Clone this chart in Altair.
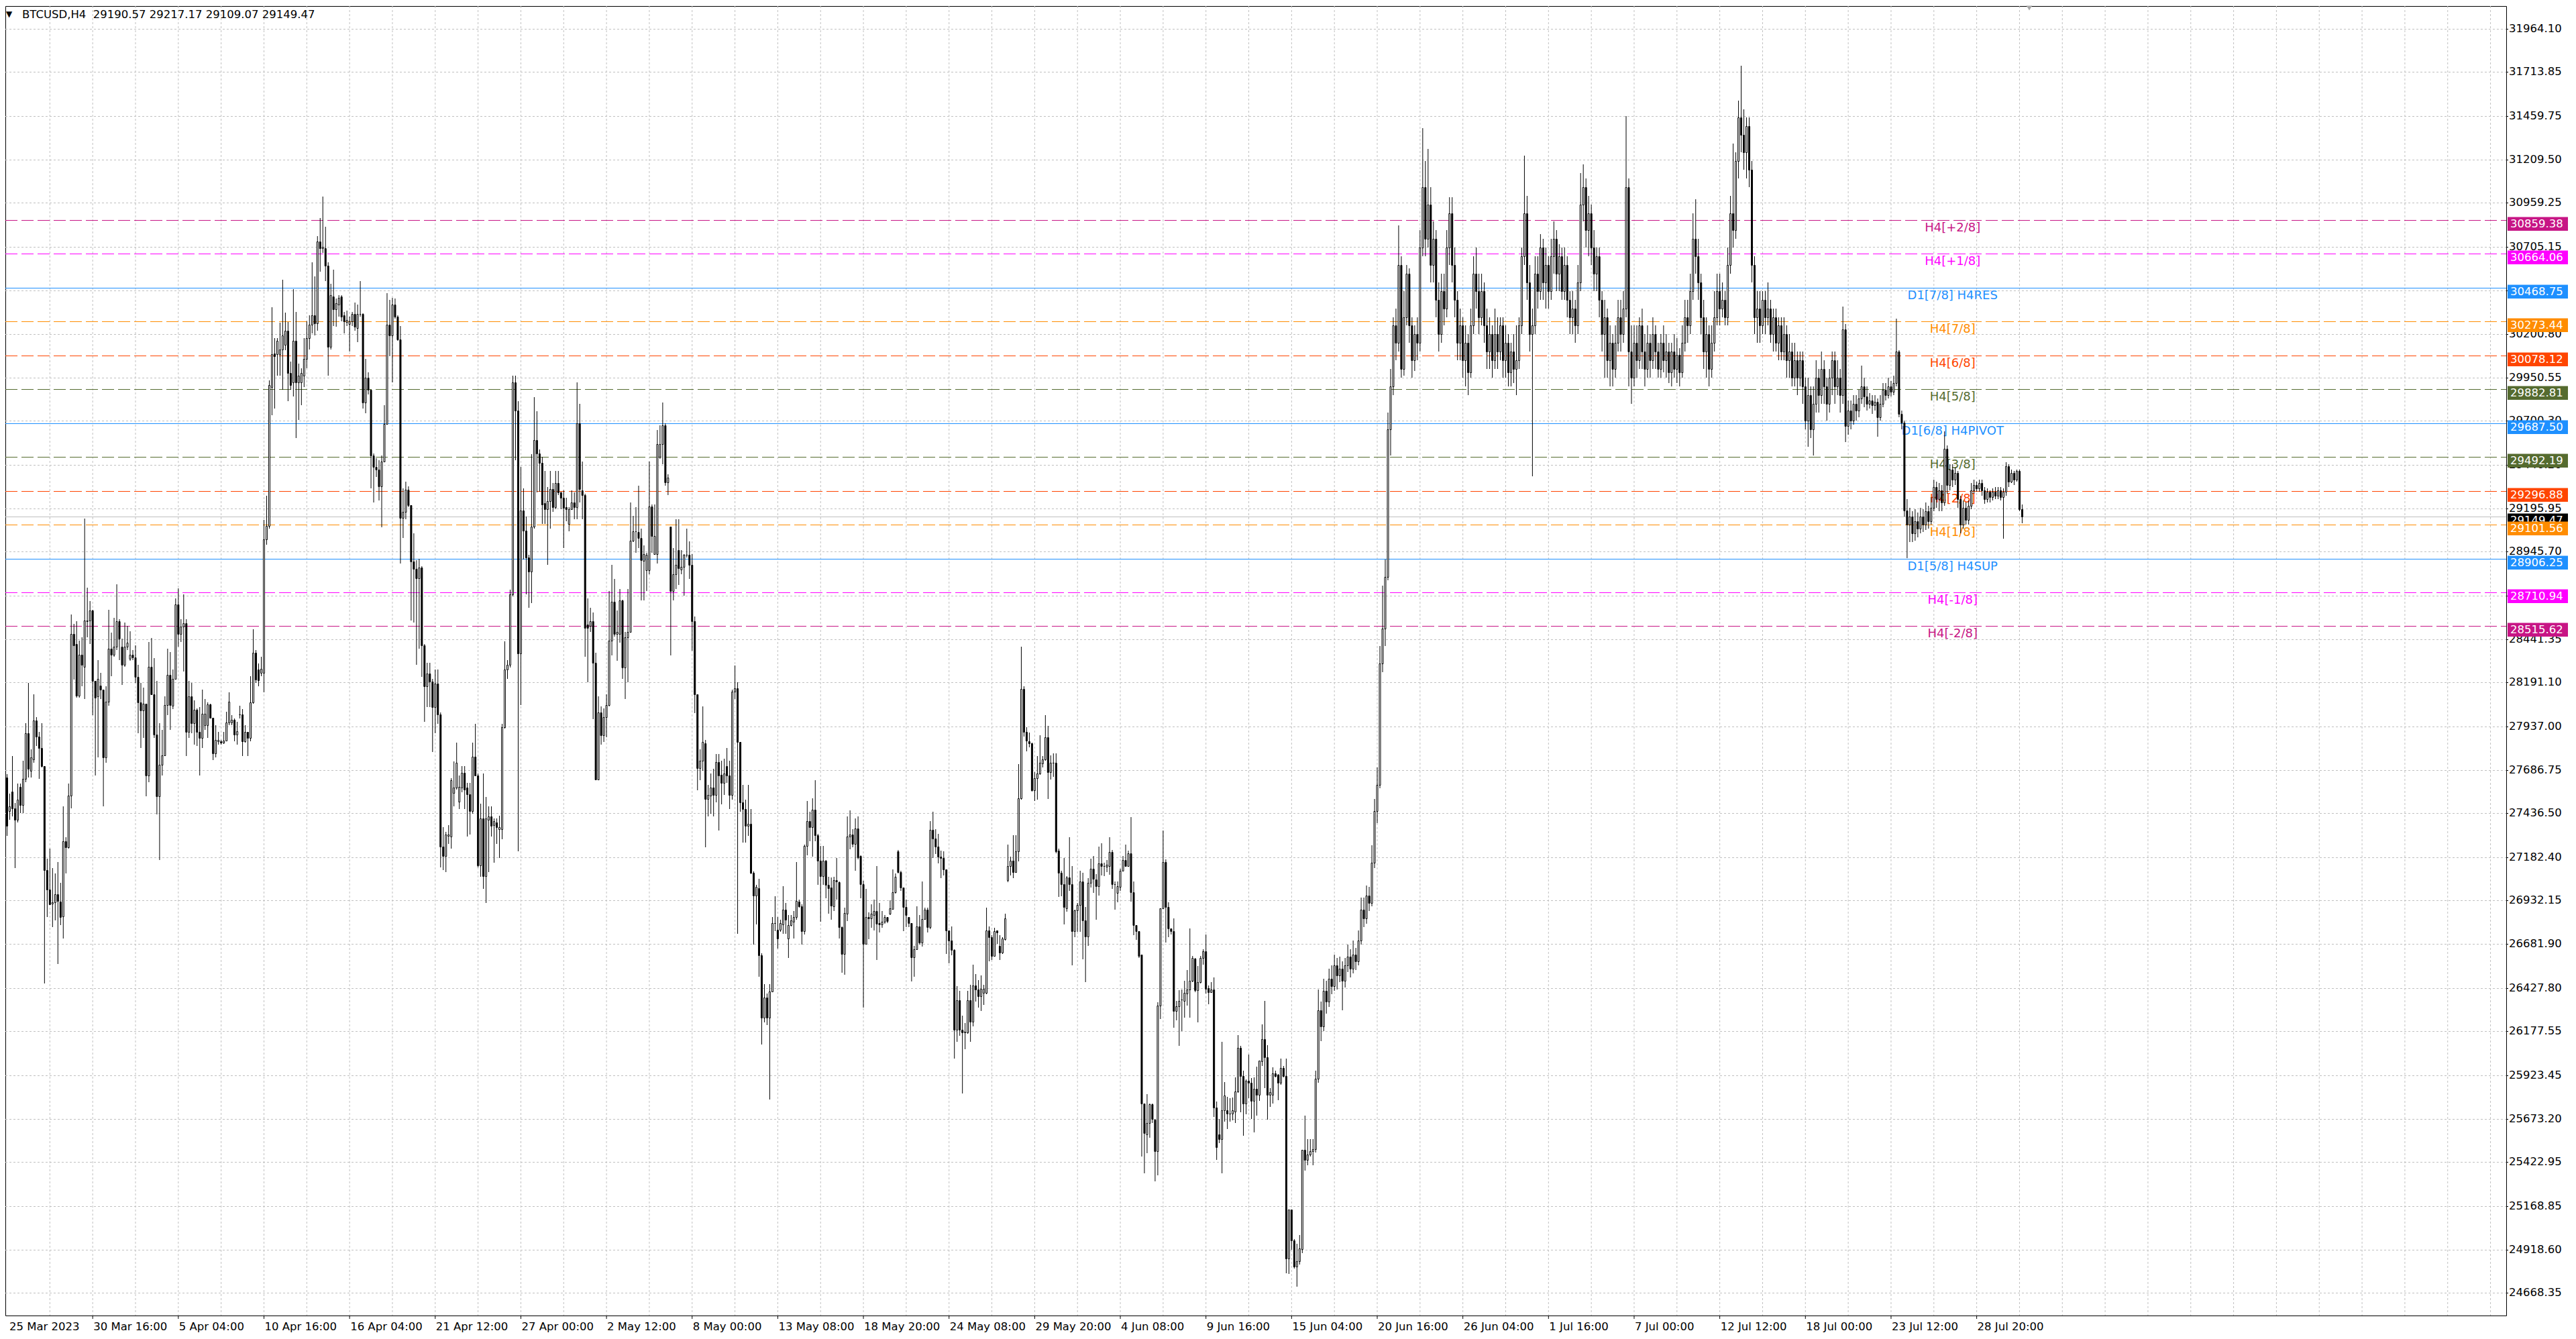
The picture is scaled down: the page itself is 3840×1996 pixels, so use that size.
import altair as alt
import pandas as pd

header_text = "BTCUSD,H4 \u00a029190.57 29217.17 29109.07 29149.47"
current_price = 29149.47

# H4 candles, bar 0 = 25 Mar 2023 00:00
opens = [
27644, 27447, 27560, 27466, 27400, 27588, 27485, 27635, 27898, 27682,
27748, 27973, 27879, 27813, 27710, 27109, 26996, 26915, 26921, 26968,
26927, 26841, 27273, 27241, 27537, 28471, 28411, 28114, 28349, 28283,
28546, 28550, 28608, 28198, 28110, 28174, 28148, 27757, 28080, 28386,
28349, 28396, 28546, 28396, 28292, 28396, 28326, 28349, 28336, 28223,
28076, 28029, 28067, 27654, 28283, 28123, 27889, 27532, 27716, 27772,
28061, 28236, 28057, 28213, 28640, 28471, 28512, 28531, 27907, 28110,
27954, 28035, 27904, 27870, 27945, 27945, 28063, 27986, 27780, 27851,
27851, 27842, 27855, 27960, 27960, 27977, 27889, 28005, 28005, 27851,
27904, 27870, 28076, 28362, 28264, 28245, 28245, 29015, 29093, 29895,
30091, 30085, 30085, 30112, 30140, 30221, 29976, 29922, 30161, 29922,
29922, 29963, 30058, 30180, 30254, 30308, 30262, 30737, 30697, 30697,
30596, 30126, 30417, 30343, 30371, 30417, 30308, 30270, 30259, 30275,
30316, 30235, 30316, 30316, 29808, 29949, 29881, 29501, 29433, 29419,
29324, 29465, 29683, 30254, 30194, 30370, 30303, 30172, 29139, 29174,
29302, 29215, 28889, 28848, 28794, 28856, 28405, 28169, 28242, 28196,
28047, 28183, 28006, 27245, 27191, 27306, 27300, 27552, 27585, 27503,
27585, 27671, 27585, 27544, 27449, 27761, 27653, 27136, 27408, 27074,
27400, 27416, 27367, 27381, 27346, 27346, 27932, 28264, 28291, 28699,
29922, 29759, 28359, 29183, 29066, 28912, 28829, 29092, 29590, 29513,
29457, 29225, 29189, 29236, 29308, 29203, 29341, 29286, 29258, 29203,
29106, 29189, 29230, 29203, 29687, 29300, 29272, 28525, 28516, 28544,
28303, 27631, 28018, 27888, 27991, 28062, 28433, 28655, 28469, 28469,
28663, 28276, 28450, 28483, 29009, 29064, 29059, 29023, 28893, 28837,
28837, 29208, 28932, 28932, 29493, 29568, 29673, 29347, 29092, 28718,
28815, 28954, 28843, 28857, 28926, 28926, 28871, 28544, 28124, 27695,
27741, 27841, 27520, 27537, 27584, 27542, 27730, 27659, 27612, 27708,
27653, 27542, 28137, 28157, 27847, 27501, 27459, 27362, 27376, 27094,
26961, 27003, 26615, 26255, 26374, 26255, 26408, 26801, 26762, 26762,
26795, 26878, 26712, 26790, 26811, 26838, 26927, 26900, 26754, 27247,
27389, 27354, 27455, 27309, 27163, 27074, 27163, 27021, 27007, 26900,
27051, 27039, 26779, 26624, 26855, 27300, 27313, 27259, 27348, 27188,
27028, 26683, 26838, 26829, 26850, 26873, 26802, 26793, 26811, 26838,
26855, 26882, 26980, 27216, 27096, 27007, 26895, 26838, 26802, 26606,
26651, 26784, 26690, 26825, 26879, 26779, 27341, 27291, 27242, 27185,
27176, 27113, 26758, 26701, 26647, 26188, 26357, 26185, 26170, 26170,
26357, 26233, 26441, 26420, 26379, 26398, 26398, 26761, 26719, 26612,
26758, 26672, 26630, 26708, 27051, 27131, 27163, 27096, 27217, 27523,
28154, 27905, 27852, 27839, 27567, 27638, 27665, 27722, 27745, 27875,
27674, 27727, 27727, 27219, 27092, 27027, 26889, 27067, 27027, 26756,
26875, 26908, 27041, 26816, 26725, 27033, 27116, 27053, 27017, 27146,
27132, 27126, 27132, 27211, 27027, 26978, 27013, 27106, 27165, 27132,
27205, 26982, 26790, 26756, 26622, 25762, 25584, 25649, 25756, 25669,
25485, 26325, 26889, 27156, 26895, 26770, 26756, 26296, 26321, 26361,
26355, 26394, 26420, 26468, 26598, 26414, 26460, 26602, 26638, 26428,
26404, 26420, 25736, 25584, 25554, 25722, 25722, 25703, 25703, 25716,
25831, 26084, 25920, 25762, 25894, 25880, 25776, 25847, 25811, 26005,
26131, 26029, 25811, 25811, 25934, 25926, 25880, 25966, 25920, 24866,
25149, 24971, 24819, 24852, 24922, 25495, 25436, 25465, 25485,
25499, 25905, 26300, 26205, 26410, 26350, 26480, 26440, 26560, 26500,
26540, 26470, 26560, 26610, 26540, 26620, 26580, 26700, 26880, 26830,
26960, 26920, 27150, 27450, 27600, 28300, 28500, 28800, 29650, 29900,
30250, 30150, 30600, 30000, 30300, 30550, 30250, 30050, 30200, 30150,
30700, 31050, 30750, 30950, 30600, 30750, 30400, 30200, 30450, 30350,
30700, 30900, 30600, 30400, 30150, 30250, 30050, 30150, 29980, 30250,
30550, 30450, 30300, 30450, 30250, 30100, 30200, 30050, 30200, 30100,
30250, 30050, 30150, 29980, 30100, 30000, 30050, 30250, 30650, 30900,
30500, 30200, 30250, 30550, 30450, 30700, 30500, 30600, 30450, 30650,
30750, 30550, 30650, 30450, 30600, 30400, 30300, 30350, 30250, 30500,
30950, 31050, 30800, 30900, 30700, 30550, 30650, 30400, 30200, 30300,
30050, 30150, 30000, 30150, 30300, 30200, 30350, 31050, 30100, 29950,
30150, 30050, 30250, 30100, 30000, 30150, 30050, 30200, 30100, 30000,
30150, 30050, 30100, 29980, 30100, 30000, 30080, 29980, 30150, 30300,
30250, 30450, 30750, 30650, 30500, 30300, 30100, 30200, 30000, 30150,
30300, 30450, 30350, 30400, 30300, 30600, 30900, 30800, 31200, 31450,
31350, 31250, 31400, 31150, 30600, 30300, 30350, 30250, 30400, 30300,
30350, 30200, 30300, 30150, 30250, 30100, 30200, 30050, 30100, 29950,
30050, 29950, 30050, 29900, 29700, 29850, 29650, 29800, 29950, 29850,
30000, 29900, 29800, 29950, 30050, 29900, 29950, 29850, 30229, 29670,
29760, 29700, 29800, 29760, 29830, 29900, 29840, 29800, 29820, 29790,
29810, 29720, 29800, 29880, 29850, 29900, 29870, 29920, 30100, 29740,
29690, 29185, 29100, 29150, 29050, 29120, 29080, 29150, 29100, 29180,
29120, 29200, 29320, 29250, 29300, 29230, 29540, 29330, 29420, 29360,
29400, 29250, 29100, 29200, 29130, 29210, 29300, 29330, 29310, 29340,
29300, 29250, 29290, 29260, 29290, 29270, 29300, 29260, 29290, 29440,
29350, 29400, 29360, 29410, 29190.57,
]
highs = [
27663, 27550, 27766, 27494, 27607, 27607, 27738, 27954, 28189, 27804,
28123, 27992, 27907, 27954, 27710, 27175, 27231, 27119, 27090, 27156,
27034, 27475, 27297, 27607, 28583, 28527, 28546, 28433, 28452, 29137,
28739, 28659, 28611, 28198, 28320, 28245, 28151, 28170, 28611, 28480,
28565, 28758, 28555, 28442, 28536, 28518, 28486, 28377, 28405, 28292,
28189, 28161, 28067, 28424, 28448, 28330, 28198, 27954, 27917, 28110,
28386, 28367, 28264, 28677, 28734, 28555, 28700, 28555, 28198, 28189,
28086, 28042, 28048, 28151, 28095, 28076, 28067, 27986, 27945, 27907,
27860, 27907, 28020, 28133, 28001, 27982, 27964, 28057, 28039, 27945,
27907, 28227, 28499, 28377, 28302, 28339, 29128, 29270, 29936, 30357,
30180, 30180, 30267, 30515, 30324, 30270, 30044, 30460, 30330, 30031,
30004, 30180, 30275, 30308, 30615, 30534, 30765, 30873, 30996, 30819,
30615, 30493, 30574, 30406, 30425, 30425, 30330, 30335, 30303, 30330,
30384, 30370, 30506, 30321, 30058, 29982, 29881, 29514, 29487, 29474,
29501, 29792, 30438, 30398, 30411, 30406, 30308, 30248, 29311, 29351,
29324, 29215, 29052, 28895, 28903, 28862, 28414, 28305, 28305, 28210,
28264, 28264, 28019, 27354, 27327, 27367, 27639, 27734, 27843, 27653,
27707, 27707, 27612, 27612, 27843, 27952, 27666, 27490, 27666, 27531,
27476, 27476, 27408, 27408, 27422, 27952, 28427, 28318, 28726, 29963,
29963, 29813, 29433, 29310, 29150, 28926, 29507, 29839, 29756, 29535,
29493, 29410, 29319, 29410, 29341, 29410, 29410, 29291, 29300, 29258,
29203, 29300, 29286, 29922, 29798, 29466, 29280, 28677, 28622, 28594,
28364, 28110, 28054, 28040, 28123, 28718, 28871, 28788, 28608, 28732,
28669, 28483, 28732, 29230, 29153, 29203, 29327, 29078, 28981, 28940,
29466, 29217, 29217, 29646, 29673, 29806, 29687, 29391, 29092, 28968,
29134, 29134, 28954, 28932, 29078, 29004, 28932, 28572, 28124, 27805,
28054, 27861, 27598, 27667, 27694, 27778, 27778, 27741, 27750, 27813,
27741, 28151, 28290, 28193, 27847, 27598, 27515, 27598, 27459, 27100,
27022, 27058, 26629, 26449, 26394, 26449, 26837, 26956, 26837, 26823,
27016, 26920, 26850, 26850, 26873, 27153, 26936, 26909, 27256, 27508,
27443, 27523, 27626, 27318, 27247, 27247, 27167, 27069, 27064, 27069,
27176, 27042, 26784, 26891, 27419, 27451, 27345, 27407, 27416, 27194,
27046, 26998, 26864, 26909, 26936, 27131, 26918, 26873, 26850, 26838,
26932, 27110, 27087, 27224, 27105, 27007, 26939, 26838, 26802, 26672,
26900, 26847, 27042, 26891, 26891, 27389, 27443, 27345, 27318, 27220,
27217, 27113, 26761, 26784, 26651, 26437, 26411, 26268, 26224, 26411,
26446, 26562, 26509, 26473, 26500, 26446, 26891, 26784, 26731, 26775,
26761, 26731, 26722, 26855, 27256, 27185, 27309, 27309, 27718, 28398,
28167, 27932, 27900, 27843, 27674, 27768, 27887, 27768, 28003, 27941,
27772, 27781, 27781, 27231, 27106, 27179, 27073, 27298, 27132, 26879,
26918, 27106, 27092, 26895, 27061, 27175, 27191, 27086, 27245, 27264,
27152, 27166, 27298, 27225, 27041, 27041, 27116, 27191, 27254, 27219,
27413, 27041, 26790, 26756, 26622, 25762, 25815, 25762, 25762, 25673,
26345, 26889, 27338, 27171, 26922, 26770, 26829, 26355, 26414, 26420,
26468, 26533, 26770, 26612, 26602, 26553, 26612, 26651, 26736, 26444,
26460, 26487, 25772, 25673, 26118, 25886, 25801, 25792, 25796, 25910,
26157, 26092, 25950, 25900, 26045, 25906, 25910, 25973, 26009, 26217,
26355, 26098, 25851, 25969, 25950, 25930, 26019, 25979, 26019, 25149,
25149, 24977, 24951, 25001, 25495, 25693, 25554, 25554, 25554,
25950, 26420, 26350, 26480, 26470, 26540, 26560, 26620, 26600, 26610,
26580, 26600, 26680, 26650, 26700, 26660, 26760, 26950, 26950, 27020,
27010, 27250, 27520, 27700, 28400, 28750, 28900, 29750, 30000, 30300,
30350, 30830, 30650, 30450, 30600, 30580, 30300, 30250, 30300, 30800,
31390, 31200, 31270, 31050, 30850, 30800, 30500, 30550, 30550, 30800,
30990, 30990, 30700, 30450, 30350, 30300, 30250, 30200, 30350, 30650,
30700, 30550, 30550, 30500, 30350, 30300, 30250, 30350, 30300, 30300,
30300, 30250, 30200, 30150, 30200, 30250, 30300, 30700, 31230, 31000,
30600, 30350, 30650, 30650, 30780, 30750, 30700, 30650, 30750, 30850,
30800, 30720, 30700, 30700, 30650, 30450, 30450, 30400, 30600, 31130,
31180, 31100, 31000, 30950, 30800, 30700, 30700, 30450, 30400, 30350,
30250, 30200, 30250, 30400, 30400, 30450, 31460, 31100, 30250, 30250,
30250, 30300, 30350, 30200, 30250, 30200, 30300, 30250, 30150, 30200,
30250, 30200, 30150, 30150, 30200, 30180, 30120, 30250, 30400, 30400,
30550, 30900, 30980, 30750, 30550, 30400, 30300, 30250, 30250, 30450,
30550, 30550, 30500, 30450, 30700, 31000, 31300, 31250, 31550, 31750,
31500, 31450, 31450, 31200, 30650, 30450, 30450, 30450, 30450, 30500,
30400, 30350, 30350, 30300, 30300, 30300, 30250, 30200, 30150, 30150,
30100, 30100, 30100, 29950, 29950, 29900, 29900, 30050, 30000, 30100,
30050, 29950, 30000, 30100, 30100, 30050, 30000, 30360, 30260, 29820,
29820, 29850, 29850, 29880, 30020, 29950, 29900, 29860, 29850, 29850,
29830, 29850, 29920, 29920, 29950, 29930, 29960, 30290, 30110, 29760,
29700, 29250, 29200, 29180, 29190, 29170, 29200, 29190, 29230, 29210,
29260, 29360, 29350, 29340, 29330, 29640, 29560, 29450, 29450, 29430,
29410, 29270, 29240, 29230, 29240, 29340, 29360, 29350, 29360, 29360,
29320, 29310, 29300, 29310, 29320, 29320, 29320, 29310, 29460, 29450,
29420, 29410, 29420, 29420, 29217.17,
]
lows = [
27306, 27400, 27419, 27119, 27381, 27438, 27438, 27616, 27644, 27644,
27729, 27823, 27635, 27701, 26452, 26837, 26912, 26780, 26818, 26565,
26790, 26715, 27090, 27231, 27466, 28208, 28104, 28104, 28170, 28095,
28452, 28414, 28001, 27654, 27757, 28095, 27475, 27729, 28057, 28227,
28339, 28377, 28320, 28176, 28283, 28377, 28317, 28320, 28189, 27898,
27813, 27870, 27532, 27616, 28123, 27870, 27428, 27165, 27654, 27766,
28001, 27917, 28039, 28208, 28396, 28424, 28255, 27766, 27870, 27898,
27832, 27823, 27654, 27813, 27917, 27870, 27982, 27742, 27757, 27832,
27832, 27836, 27851, 27945, 27945, 27851, 27832, 27982, 27766, 27842,
27766, 27851, 28067, 28189, 28170, 28227, 28133, 28984, 29079, 29732,
29772, 29963, 29963, 29881, 30107, 29813, 29881, 29840, 29601, 29705,
29792, 29895, 30004, 30112, 30207, 30194, 30221, 30561, 30670, 30506,
29963, 30112, 30248, 30243, 30303, 30275, 30207, 30248, 30099, 30248,
30221, 30153, 30303, 29773, 29745, 29854, 29311, 29229, 29378, 29243,
29085, 29460, 29678, 30072, 29922, 30289, 30161, 28876, 29025, 29134,
29202, 28550, 28536, 28291, 28386, 28223, 27965, 28047, 28047, 27788,
27897, 27951, 27123, 27109, 27096, 27259, 27231, 27476, 27571, 27462,
27558, 27462, 27300, 27313, 27435, 27653, 27123, 27068, 27000, 26919,
27096, 27300, 27150, 27259, 27177, 27286, 27924, 28210, 28278, 28686,
29474, 27218, 28060, 28900, 28700, 28622, 28649, 29078, 29286, 29291,
29106, 29106, 28871, 29078, 29175, 29189, 29272, 29189, 28968, 29120,
29064, 29189, 29134, 29134, 29230, 29134, 28339, 28193, 28483, 27980,
27625, 27625, 27833, 27847, 27874, 28054, 28345, 28456, 28317, 28422,
28212, 28096, 28193, 28483, 29000, 28940, 28968, 28663, 28663, 28718,
28815, 28940, 28926, 28876, 29480, 29452, 29327, 29272, 28345, 28663,
28732, 28754, 28815, 28691, 28912, 28788, 28373, 28013, 27570, 27625,
27681, 27238, 27418, 27432, 27418, 27501, 27335, 27487, 27542, 27612,
27459, 27515, 28096, 26740, 27446, 27266, 27266, 27307, 27086, 26679,
26795, 26491, 26103, 26228, 26214, 25785, 26408, 26754, 26657, 26750,
26740, 26740, 26601, 26781, 26713, 26820, 26891, 26678, 26736, 27194,
27274, 27185, 27274, 27024, 26811, 27024, 26944, 26855, 26820, 26873,
26936, 26713, 26517, 26505, 26815, 27229, 27238, 27105, 27170, 26944,
26313, 26683, 26708, 26775, 26758, 26589, 26749, 26775, 26797, 26802,
26847, 26882, 26971, 27087, 26989, 26754, 26779, 26779, 26464, 26491,
26651, 26678, 26665, 26820, 26749, 26766, 27176, 27202, 27145, 27060,
27078, 26624, 26571, 26615, 26019, 26117, 26153, 25818, 26073, 26162,
26117, 26206, 26348, 26313, 26295, 26331, 26393, 26580, 26589, 26607,
26683, 26589, 26624, 26701, 27039, 27078, 27060, 27096, 27158, 27514,
27878, 27793, 27816, 27562, 27508, 27514, 27656, 27700, 27740, 27519,
27629, 27647, 27205, 26954, 26958, 26796, 26869, 26988, 26559, 26721,
26750, 26750, 26592, 26460, 26671, 27007, 26978, 26823, 26962, 27077,
27073, 27096, 27080, 27001, 26879, 26922, 26988, 27100, 27126, 27126,
26928, 26731, 26705, 26602, 25455, 25357, 25475, 25564, 25649, 25313,
25347, 26250, 26889, 26691, 26721, 26736, 26197, 26242, 26092, 26177,
26256, 26325, 26256, 26460, 26404, 26230, 26454, 26563, 26394, 26335,
26400, 25683, 25436, 25534, 25357, 25657, 25614, 25657, 25663, 25649,
25821, 25712, 25574, 25697, 25792, 25673, 25594, 25693, 25776, 25979,
25851, 25669, 25742, 25762, 25910, 25782, 25871, 25910, 24783, 24779,
24918, 24807, 24704, 24833, 24898, 25372, 25406, 25455, 25406,
25480, 25880, 26120, 26180, 26280, 26320, 26390, 26410, 26420, 26460,
26300, 26430, 26520, 26490, 26510, 26530, 26560, 26680, 26780, 26800,
26870, 26900, 27120, 27380, 27580, 28250, 28400, 28780, 29500, 29850,
30050, 30100, 29950, 29960, 30250, 30150, 29950, 29990, 30050, 30100,
30650, 30650, 30700, 30500, 30500, 30300, 30100, 30150, 30250, 30300,
30600, 30500, 30300, 30050, 30050, 29950, 29900, 29850, 29950, 30200,
30350, 30200, 30250, 30150, 30000, 30000, 29950, 30000, 30000, 30050,
29950, 29950, 29900, 29900, 29920, 29850, 30000, 30200, 30600, 30400,
30100, 29380, 30200, 30350, 30400, 30400, 30350, 30350, 30400, 30550,
30450, 30450, 30400, 30400, 30300, 30200, 30200, 30150, 30200, 30450,
30850, 30700, 30650, 30600, 30450, 30450, 30300, 30100, 29950, 29950,
29900, 29900, 29950, 30100, 30100, 30150, 30300, 29900, 29800, 29900,
29950, 30000, 30000, 29900, 29950, 29950, 30000, 30000, 29950, 29950,
29980, 29950, 29920, 29900, 29950, 29920, 29900, 29950, 30100, 30150,
30200, 30400, 30550, 30400, 30200, 30000, 29950, 29900, 29950, 30100,
30250, 30250, 30300, 30250, 30250, 30550, 30700, 30750, 31100, 31250,
31150, 31100, 31050, 30500, 30200, 30150, 30150, 30200, 30200, 30250,
30150, 30100, 30100, 30050, 30050, 30050, 29950, 29950, 29900, 29900,
29850, 29900, 29800, 29650, 29550, 29600, 29500, 29750, 29750, 29800,
29800, 29700, 29750, 29850, 29800, 29850, 29750, 29800, 29577, 29620,
29650, 29680, 29700, 29720, 29800, 29780, 29760, 29770, 29740, 29760,
29610, 29700, 29780, 29820, 29830, 29840, 29850, 29900, 29720, 29650,
29150, 28910, 29000, 29000, 29010, 29030, 29050, 29060, 29070, 29080,
29100, 29180, 29200, 29180, 29180, 29210, 29280, 29300, 29320, 29330,
29200, 29050, 29080, 29100, 29100, 29190, 29280, 29290, 29290, 29270,
29220, 29230, 29230, 29240, 29250, 29250, 29240, 29020, 29270, 29320,
29340, 29330, 29350, 29180, 29109.07,
]
closes = [
27363, 27475, 27466, 27400, 27513, 27485, 27635, 27898, 27691, 27757,
27973, 27879, 27813, 27710, 27109, 26996, 26912, 26921, 26968, 26931,
26837, 27273, 27241, 27537, 28471, 28405, 28114, 28349, 28292, 28550,
28550, 28608, 28198, 28104, 28212, 28148, 27757, 28080, 28386, 28349,
28396, 28546, 28442, 28292, 28396, 28420, 28349, 28336, 28223, 28076,
28029, 28067, 27654, 28283, 28123, 27892, 27535, 27716, 27772, 28061,
28236, 28061, 28213, 28640, 28471, 28512, 28531, 27907, 28110, 27954,
28035, 27904, 27870, 28011, 28011, 28063, 27986, 27780, 27860, 27860,
27842, 27855, 27960, 28080, 27977, 27889, 27911, 28005, 27851, 27904,
27870, 28076, 28362, 28208, 28204, 28268, 29015, 29093, 29908, 30085,
30072, 30161, 30112, 30194, 30221, 29976, 29908, 30161, 29922, 29963,
29976, 30058, 30180, 30254, 30308, 30262, 30737, 30697, 30705, 30596,
30126, 30425, 30343, 30379, 30411, 30303, 30275, 30281, 30275, 30316,
30243, 30316, 30316, 29808, 29949, 29881, 29501, 29433, 29419, 29324,
29465, 29683, 30254, 30194, 30370, 30303, 30172, 29139, 29174, 29302,
29215, 28889, 28848, 28794, 28856, 28405, 28169, 28242, 28196, 28047,
28183, 28006, 27245, 27191, 27313, 27313, 27626, 27585, 27726, 27590,
27671, 27571, 27544, 27449, 27761, 27653, 27136, 27408, 27074, 27408,
27416, 27362, 27389, 27354, 27354, 27932, 28264, 28291, 28699, 29922,
29759, 28359, 29183, 29066, 28912, 28829, 29092, 29590, 29513, 29457,
29217, 29189, 29236, 29308, 29203, 29341, 29286, 29258, 29197, 29189,
29189, 29230, 29203, 29687, 29308, 29272, 28505, 28505, 28544, 28303,
27631, 28018, 27888, 27991, 28062, 28433, 28655, 28469, 28483, 28663,
28276, 28450, 28483, 29009, 29064, 29064, 29023, 28898, 28932, 28926,
29208, 29037, 29037, 29568, 29568, 29673, 29347, 29374, 28718, 28815,
28871, 28849, 28857, 28926, 28926, 28871, 28544, 28124, 27695, 27741,
27847, 27520, 27542, 27584, 27542, 27730, 27653, 27612, 27667, 27653,
27542, 28137, 28157, 27847, 27501, 27459, 27362, 27376, 27094, 26961,
27011, 26615, 26255, 26374, 26255, 26408, 26801, 26801, 26712, 26801,
26878, 26823, 26790, 26817, 26838, 26930, 26900, 26754, 27247, 27389,
27354, 27455, 27309, 27163, 27074, 27163, 27021, 27003, 26904, 27051,
27042, 26779, 26624, 26861, 27300, 27313, 27259, 27348, 27181, 27028,
26683, 26838, 26829, 26855, 26873, 26797, 26793, 26811, 26838, 26815,
26886, 26980, 27069, 27096, 27007, 26895, 26847, 26802, 26606, 26651,
26784, 26690, 26825, 26879, 26779, 27341, 27291, 27242, 27185, 27176,
27113, 26758, 26701, 26647, 26188, 26357, 26185, 26170, 26174, 26357,
26233, 26441, 26420, 26379, 26423, 26423, 26761, 26719, 26612, 26754,
26749, 26633, 26713, 26829, 27131, 27163, 27096, 27217, 27523, 28154,
27905, 27857, 27839, 27567, 27638, 27665, 27727, 27745, 27875, 27674,
27727, 27727, 27215, 27092, 27027, 26895, 27067, 27027, 26756, 26875,
26908, 27041, 26816, 26725, 27033, 27116, 27057, 27017, 27146, 27132,
27132, 27140, 27211, 27027, 27027, 27017, 27106, 27165, 27132, 27205,
26982, 26790, 26756, 26612, 25762, 25590, 25649, 25756, 25673, 25485,
26325, 26889, 27156, 26895, 26770, 26756, 26296, 26321, 26355, 26361,
26400, 26420, 26468, 26602, 26414, 26460, 26602, 26638, 26424, 26404,
26420, 25736, 25511, 25554, 25722, 25807, 25703, 25703, 25722, 25831,
26084, 25920, 25762, 25894, 25880, 25776, 25847, 25811, 26009, 26131,
26029, 25811, 25827, 25934, 25920, 25880, 25966, 25920, 24866, 25149,
24971, 24819, 24852, 24926, 25495, 25436, 25465, 25485, 25499,
25905, 26300, 26205, 26410, 26350, 26480, 26440, 26560, 26500, 26540,
26470, 26560, 26610, 26540, 26620, 26580, 26700, 26880, 26830, 26960,
26920, 27150, 27450, 27600, 28300, 28500, 28800, 29650, 29900, 30250,
30150, 30600, 30000, 30300, 30550, 30250, 30050, 30200, 30150, 30700,
31050, 30750, 30950, 30600, 30750, 30400, 30200, 30450, 30350, 30700,
30900, 30600, 30400, 30150, 30250, 30050, 30150, 29980, 30250, 30550,
30450, 30300, 30450, 30250, 30100, 30200, 30050, 30200, 30100, 30250,
30050, 30150, 29980, 30100, 30000, 30050, 30250, 30650, 30900, 30500,
30200, 30250, 30550, 30450, 30700, 30500, 30600, 30450, 30650, 30750,
30550, 30650, 30450, 30600, 30400, 30300, 30350, 30250, 30500, 30950,
31050, 30800, 30900, 30700, 30550, 30650, 30400, 30200, 30300, 30050,
30150, 30000, 30150, 30300, 30200, 30350, 31050, 30100, 29950, 30150,
30050, 30250, 30100, 30000, 30150, 30050, 30200, 30100, 30000, 30150,
30050, 30100, 29980, 30100, 30000, 30080, 29980, 30150, 30300, 30250,
30450, 30750, 30650, 30500, 30300, 30100, 30200, 30000, 30150, 30300,
30450, 30350, 30400, 30300, 30600, 30900, 30800, 31200, 31450, 31350,
31250, 31400, 31150, 30600, 30300, 30350, 30250, 30400, 30300, 30350,
30200, 30300, 30150, 30250, 30100, 30200, 30050, 30100, 29950, 30050,
29950, 30050, 29900, 29700, 29850, 29650, 29800, 29950, 29850, 30000,
29900, 29800, 29950, 30050, 29900, 29950, 29850, 30229, 29670, 29760,
29700, 29800, 29760, 29830, 29900, 29840, 29800, 29820, 29790, 29810,
29720, 29800, 29880, 29850, 29900, 29870, 29920, 30100, 29740, 29690,
29185, 29100, 29150, 29050, 29120, 29080, 29150, 29100, 29180, 29120,
29200, 29320, 29250, 29300, 29230, 29540, 29330, 29420, 29360, 29400,
29250, 29100, 29200, 29130, 29210, 29300, 29330, 29310, 29340, 29300,
29250, 29290, 29260, 29290, 29270, 29300, 29260, 29290, 29440, 29350,
29400, 29360, 29410, 29190, 29149.47,
]

time_labels = [
    "25 Mar 2023", "30 Mar 16:00", "5 Apr 04:00", "10 Apr 16:00", "16 Apr 04:00",
    "21 Apr 12:00", "27 Apr 00:00", "2 May 12:00", "8 May 00:00", "13 May 08:00",
    "18 May 20:00", "24 May 08:00", "29 May 20:00", "4 Jun 08:00", "9 Jun 16:00",
    "15 Jun 04:00", "20 Jun 16:00", "26 Jun 04:00", "1 Jul 16:00", "7 Jul 00:00",
    "12 Jul 12:00", "18 Jul 00:00", "23 Jul 12:00", "28 Jul 20:00",
]
bars_per_label = 32
bars_per_vgrid = 16

price_ticks = [
    31964.10, 31713.85, 31459.75, 31209.50, 30959.25, 30705.15, 30454.90,
    30200.80, 29950.55, 29700.30, 29446.20, 29195.95, 28945.70, 28691.60,
    28441.35, 28191.10, 27937.00, 27686.75, 27436.50, 27182.40, 26932.15,
    26681.90, 26427.80, 26177.55, 25923.45, 25673.20, 25422.95, 25168.85,
    24918.60, 24668.35,
]

level_prices = [30859.38, 30664.06, 30468.75, 30273.44, 30078.12, 29882.81, 29687.50,
                29492.19, 29296.88, 29101.56, 28906.25, 28710.94, 28515.62]
level_names = ["H4[+2/8]", "H4[+1/8]", "D1[7/8] H4RES", "H4[7/8]", "H4[6/8]", "H4[5/8]",
               "D1[6/8] H4PIVOT", "H4[3/8]", "H4[2/8]", "H4[1/8]", "D1[5/8] H4SUP",
               "H4[-1/8]", "H4[-2/8]"]
level_colors = ["#C71585", "#FF00FF", "#1E90FF", "#FF8C00", "#FF4500", "#556B2F", "#1E90FF",
                "#556B2F", "#FF4500", "#FF8C00", "#1E90FF", "#FF00FF", "#C71585"]
level_solid = [False, False, True, False, False, False, True, False, False, False, True, False, False]
level_label_bar = 727

# ---------------- layout ----------------
W, H = 3728, 1952
X_DOMAIN = [0.625, 932.625]
Y_DOMAIN = [24537.4, 32094.5]
FONT = "DejaVu Sans"
FS = 16.5

n = min(len(opens), len(highs), len(lows), len(closes))
rows = []
for i in range(n):
    o, h, l, c = opens[i], highs[i], lows[i], closes[i]
    rows.append({"k": i, "open": o, "close": c,
                 "high": max(h, o, c), "low": min(l, o, c),
                 "fill": "white" if c >= o else "black"})
bars = pd.DataFrame(rows)

xs = alt.Scale(domain=X_DOMAIN, nice=False, zero=False)
ys = alt.Scale(domain=Y_DOMAIN, nice=False, zero=False, round=True)

def xq(field):
    return alt.X(field, type="quantitative", scale=xs, axis=None)

def yq(field):
    return alt.Y(field, type="quantitative", scale=ys, axis=None)

# grid
vgrid_df = pd.DataFrame({"k": list(range(bars_per_vgrid, int(X_DOMAIN[1]), bars_per_vgrid))})
vgrid = alt.Chart(vgrid_df).mark_rule(color="#c0c0c0", strokeDash=[3, 3], strokeWidth=1, clip=True).encode(
    x=xq("k"), y=alt.value(0), y2=alt.value(H))

yt_df = pd.DataFrame({"p": price_ticks, "t": [f"{p:.2f}" for p in price_ticks]})
hgrid = alt.Chart(yt_df).mark_rule(color="#c0c0c0", strokeDash=[3, 3], strokeWidth=1,
                                   yOffset=0.5, clip=True).encode(
    y=yq("p"), x=alt.value(0), x2=alt.value(W))
ytick = alt.Chart(yt_df).mark_rule(color="black", strokeWidth=1, yOffset=0.5).encode(
    y=yq("p"), x=alt.value(W), x2=alt.value(W + 3))
ylab = alt.Chart(yt_df).mark_text(align="left", baseline="middle", font=FONT, fontSize=FS,
                                  color="black").encode(
    y=yq("p"), x=alt.value(W + 4), text="t:N")

xl_df = pd.DataFrame({"k": [bars_per_label * i for i in range(len(time_labels))],
                      "t": time_labels})
xl_df["kt"] = xl_df["k"].clip(lower=X_DOMAIN[0])
xlab = alt.Chart(xl_df).mark_text(align="left", baseline="top", dx=1, font=FONT, fontSize=FS,
                                  color="black").encode(
    x=xq("kt"), y=alt.value(H + 9), text="t:N")
xtick = alt.Chart(xl_df[xl_df["k"] > 0]).mark_rule(color="black", strokeWidth=1).encode(
    x=xq("k"), y=alt.value(H), y2=alt.value(H + 5))

# levels
lv = pd.DataFrame({"p": level_prices, "n": level_names, "c": level_colors,
                   "solid": level_solid, "k": [level_label_bar] * len(level_prices),
                   "t": [f"{p:.2f}" for p in level_prices]})
lv_dash = lv[~lv["solid"]]
lv_solid = lv[lv["solid"]]

dash_lines = alt.Chart(lv_dash).mark_rule(strokeWidth=1, strokeDash=[18, 6], yOffset=0.5,
                                          clip=True).encode(
    y=yq("p"), x=alt.value(0), x2=alt.value(W), color=alt.Color("c:N", scale=None))
solid_lines = alt.Chart(lv_solid).mark_rule(strokeWidth=1, yOffset=0.5, clip=True).encode(
    y=yq("p"), x=alt.value(0), x2=alt.value(W), color=alt.Color("c:N", scale=None))

cur_df = pd.DataFrame({"p": [current_price], "t": [f"{current_price:.2f}"]})
cur_line = alt.Chart(cur_df).mark_rule(strokeWidth=1, color="#c0c0c0", yOffset=0.5,
                                       clip=True).encode(
    y=yq("p"), x=alt.value(0), x2=alt.value(W))

level_text = alt.Chart(lv).mark_text(align="center", baseline="top", dy=3, font=FONT,
                                     fontSize=18, clip=True).encode(
    x=xq("k"), y=yq("p"), text="n:N", color=alt.Color("c:N", scale=None))

# candles
wicks = alt.Chart(bars).mark_rule(color="black", strokeWidth=1, clip=True).encode(
    x=xq("k"), y=yq("low"), y2="high:Q")
bodies = alt.Chart(bars).mark_bar(size=2, stroke="black", strokeWidth=1, yOffset=0.5,
                                  y2Offset=0.5, clip=True).encode(
    x=xq("k"), y=yq("open"), y2="close:Q", fill=alt.Fill("fill:N", scale=None))

# header
hdr_df = pd.DataFrame({"t": [header_text], "tri": ["\u25bc"]})
header = alt.Chart(hdr_df).mark_text(align="left", baseline="middle", font=FONT, fontSize=16.5,
                                     color="black").encode(
    x=alt.value(25), y=alt.value(13), text="t:N")
tri = alt.Chart(hdr_df).mark_text(align="left", baseline="middle", font=FONT, fontSize=12,
                                  color="black").encode(
    x=alt.value(1), y=alt.value(12), text="tri:N")
shift_mark = alt.Chart(hdr_df).mark_point(shape="triangle-down", filled=True, color="#a8a8a8",
                                          size=70, opacity=1).encode(
    x=alt.value(3017), y=alt.value(3))

# right-side price boxes
cur_box = alt.Chart(cur_df).mark_rect(color="black", yOffset=-4.5, y2Offset=16).encode(
    x=alt.value(W + 2), x2=alt.value(W + 92), y=yq("p"), y2=alt.Y2("p:Q"))
cur_box_text = alt.Chart(cur_df).mark_text(align="left", baseline="middle", dy=6, font=FONT,
                                           fontSize=FS, color="white").encode(
    x=alt.value(W + 6), y=yq("p"), text="t:N")
lv_box = alt.Chart(lv).mark_rect(yOffset=-4.5, y2Offset=16).encode(
    x=alt.value(W + 2), x2=alt.value(W + 92), y=yq("p"), y2=alt.Y2("p:Q"),
    color=alt.Color("c:N", scale=None))
lv_box_text = alt.Chart(lv).mark_text(align="left", baseline="middle", dy=6, font=FONT,
                                      fontSize=FS, color="white").encode(
    x=alt.value(W + 6), y=yq("p"), text="t:N")

chart = alt.layer(
    vgrid, hgrid, dash_lines, solid_lines, cur_line, level_text, wicks, bodies,
    ytick, ylab, xtick, xlab,
    header, tri, shift_mark, cur_box, cur_box_text, lv_box, lv_box_text
).properties(
    width=W, height=H, padding=0, background="white"
).configure_view(stroke="black", strokeWidth=1)

chart.save("out.html", embed_options={"renderer": "svg", "actions": False})
